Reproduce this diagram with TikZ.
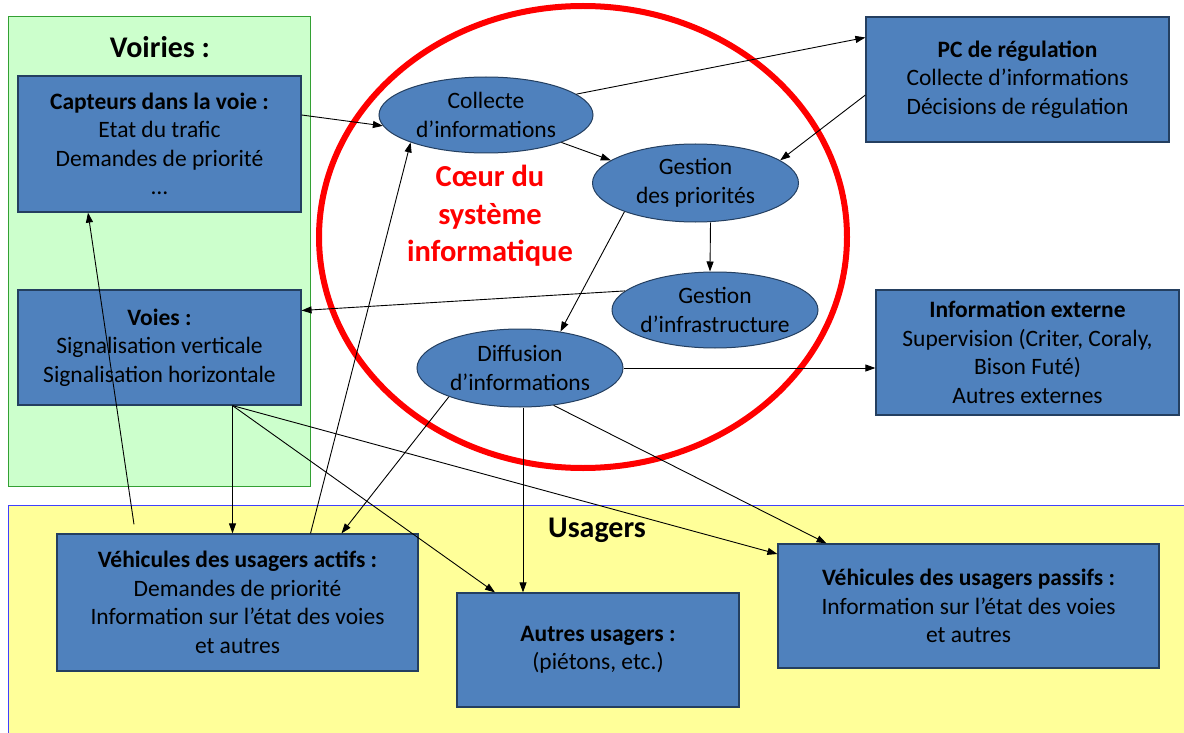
\documentclass[tikz,border=0pt]{standalone}
\usepackage{fontspec}
\setmainfont{Carlito}
\usetikzlibrary{shapes.geometric,arrows.meta}
\definecolor{boxblue}{HTML}{4F81BD}
\definecolor{boxedge}{HTML}{243F60}
\definecolor{greenfill}{HTML}{CCFFCC}
\definecolor{greenedge}{HTML}{33A033}
\definecolor{yellowfill}{HTML}{FFFF99}
\definecolor{yellowedge}{HTML}{4040FF}
\definecolor{coeurred}{HTML}{FF0000}
\begin{document}
\begin{tikzpicture}[x=1pt,y=-1pt,
  box/.style={rectangle, draw=boxedge, line width=1.2pt, fill=boxblue, align=center, inner sep=0pt, font=\fontsize{23.5pt}{28.5pt}\selectfont, text=black},
  ell/.style={ellipse, draw=boxedge, line width=1pt, fill=boxblue, align=center, inner sep=-4pt, font=\fontsize{23.5pt}{29pt}\selectfont, text=black},
  conn/.style={draw=black, line width=0.9pt, -{Triangle[length=10pt,width=7pt]}},
  zone/.style={font=\bfseries\fontsize{30pt}{34pt}\selectfont}
]
\useasboundingbox (0,0) rectangle (1184,733);
\fill[white] (0,0) rectangle (1184,733);
\draw[fill=greenfill, draw=greenedge, line width=1pt] (8,17) rectangle (310,486);
\draw[fill=yellowfill, draw=yellowedge, line width=1pt] (8,505) rectangle (1200,750);
\draw[coeurred, line width=6pt] (583,237) ellipse [x radius=264pt, y radius=231pt];

\node[zone] (voiriestitle) at (160,47) {Voiries :};
\node[zone] (usagerstitle) at (597,530) {Usagers};
\node[align=center, text=coeurred, font=\bfseries\fontsize{30.5pt}{37.5pt}\selectfont] (coeurtext) at (490,216) {Cœur du\\système\\informatique};

\node[box, minimum width=283pt, minimum height=136pt] (capteurs) at (159.5,144) {\textbf{Capteurs dans la voie :}\\Etat du trafic\\Demandes de priorité\\…};
\node[box, minimum width=283pt, minimum height=115pt] (voies) at (159.5,347.5) {\textbf{Voies :}\\Signalisation verticale\\Signalisation horizontale};
\node[box, minimum width=303pt, minimum height=125pt] (pc) at (1017.5,79.5) {\textbf{PC de régulation}\\Collecte d’informations\\Décisions de régulation};
\node[box, minimum width=303pt, minimum height=125pt] (info) at (1027.5,352.5) {\textbf{Information externe}\\Supervision (Criter, Coraly,\\Bison Futé)\\Autres externes};
\node[box, minimum width=361pt, minimum height=137pt] (actifs) at (237.5,602.5) {\textbf{Véhicules des usagers actifs :}\\Demandes de priorité\\Information sur l’état des voies\\et autres};
\node[box, minimum width=282pt, minimum height=114pt] (autres) at (598,650) {\textbf{Autres usagers :}\\(piétons, etc.)};
\node[box, minimum width=381pt, minimum height=124pt] (passifs) at (968.5,606) {\textbf{Véhicules des usagers passifs :}\\Information sur l’état des voies\\et autres};

\node[ell, minimum width=214pt, minimum height=76pt] (collecte) at (486,115) {Collecte\\d’informations};
\node[ell, minimum width=206pt, minimum height=78pt] (gprio) at (695.5,183) {Gestion\\des priorités};
\node[ell, minimum width=206pt, minimum height=76pt] (ginfra) at (715,310) {Gestion\\d’infrastructure};
\node[ell, minimum width=206pt, minimum height=78pt] (diff) at (520,368) {Diffusion\\d’informations};

% connectors
\draw[conn] ([yshift=29pt]capteurs.east) -- (collecte.186);
\draw[conn] (collecte.13) -- ([yshift=42pt]pc.west);
\draw[conn] (collecte.-20) -- (gprio.165);
\draw[conn] ([yshift=-15.5pt]pc.west) -- (gprio.15);
\draw[conn] ([xshift=15pt]gprio.south) -- ([xshift=-5pt]ginfra.north);
\draw[conn] (gprio.202) -- (diff.42);
\draw[conn] (ginfra.168) -- ([yshift=37pt]voies.east);
\draw[conn] (diff.east) -- (diff.east -| info.west);
\draw[conn] ([xshift=3pt]diff.south) -- ([xshift=3pt]diff.south |- autres.north);
\draw[conn] (diff.202) -- ([xshift=104pt]actifs.north);
\draw[conn] (diff.-48) -- ([xshift=-142pt]passifs.north);
\draw[conn] ([xshift=73pt]voies.south) -- ([xshift=73pt]voies.south |- actifs.north);
\draw[conn] ([xshift=73pt]voies.south) -- ([xshift=-103pt]autres.north);
\draw[conn] ([xshift=73pt]voies.south) -- ([yshift=52pt]passifs.west);
\coordinate (actifsfree) at ([xshift=-103.5pt,yshift=9pt]actifs.north);
\draw[conn] (actifsfree) -- ([xshift=-71.5pt]capteurs.south);
\draw[conn] ([xshift=73pt]actifs.north) -- (collecte.200);
\end{tikzpicture}
\end{document}
